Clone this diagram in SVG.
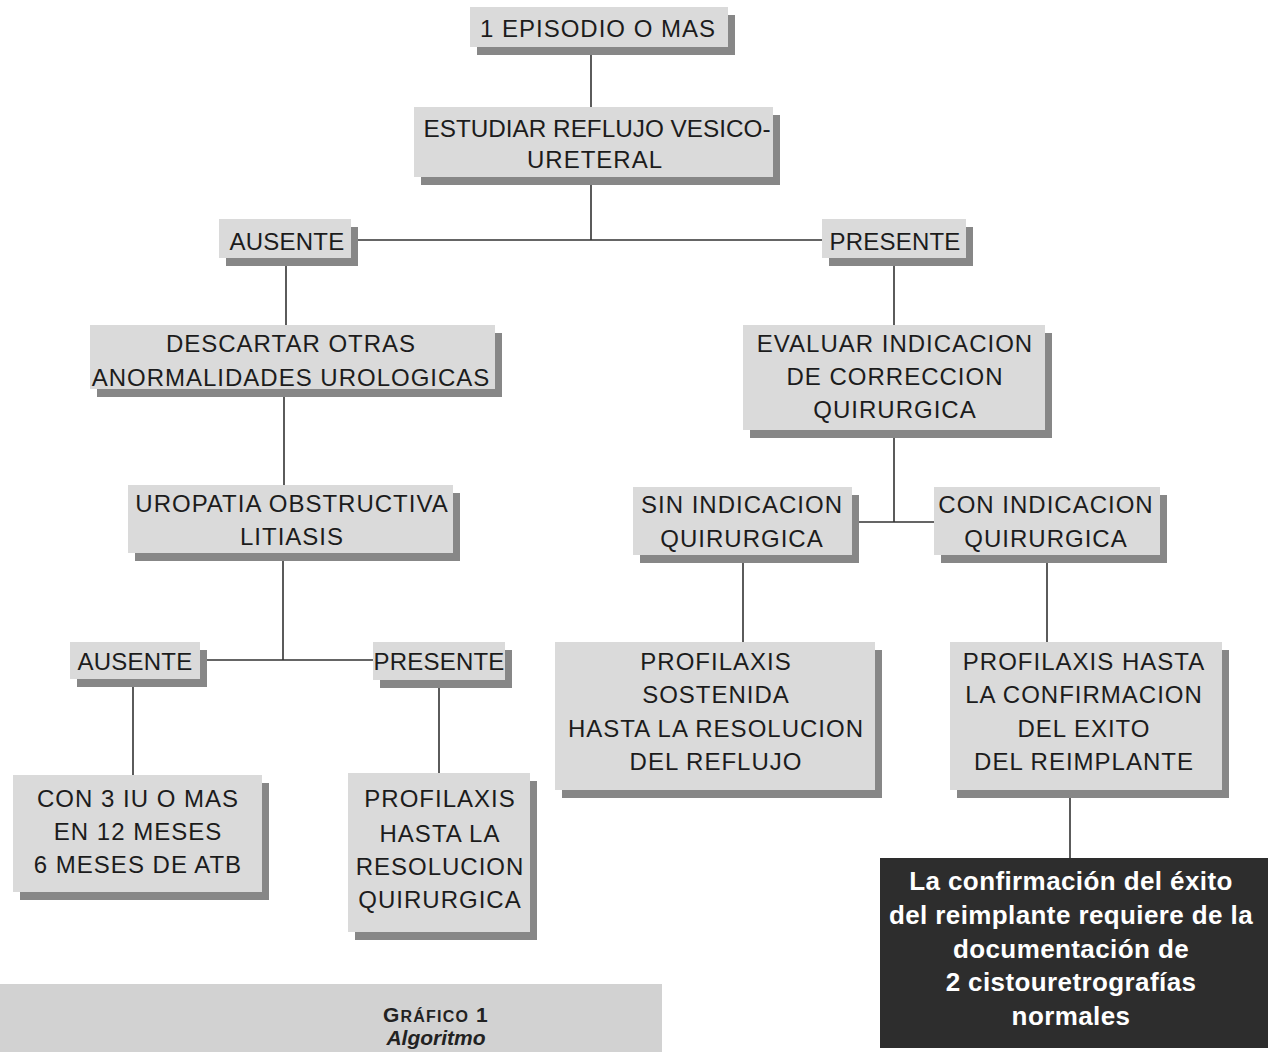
<svg xmlns="http://www.w3.org/2000/svg" width="1268" height="1052" viewBox="0 0 1268 1052">
<style>
.bg{fill:#ffffff}
.sh{fill:#878787}
.bx{fill:#dadada}
.t{font-family:"Liberation Sans",Arial,sans-serif;font-size:24px;letter-spacing:1px;fill:#1c1c1c;text-anchor:middle}
.tn{letter-spacing:0.2px}
.w{font-family:"Liberation Sans",Arial,sans-serif;font-size:26px;font-weight:bold;letter-spacing:0.4px;fill:#ffffff;text-anchor:middle}
.ln{stroke:#333333;stroke-width:1.6;fill:none}
.cap{font-family:"Liberation Sans",Arial,sans-serif;font-weight:bold;fill:#222222;text-anchor:middle}
</style>
<rect class="bg" x="0" y="0" width="1268" height="1052"/>
<rect x="0" y="984" width="662" height="68" fill="#d2d2d2"/>

<g id="connectors">
<path class="ln" d="M591 47V107"/>
<path class="ln" d="M591 185V240M358 240H822"/>
<path class="ln" d="M286 266V325"/>
<path class="ln" d="M894 266V325"/>
<path class="ln" d="M284 397V485"/>
<path class="ln" d="M894 438V522M859 522H934"/>
<path class="ln" d="M283 561V660M207 660H373"/>
<path class="ln" d="M133 687V775"/>
<path class="ln" d="M439 688V773"/>
<path class="ln" d="M743 563V642"/>
<path class="ln" d="M1047 563V642"/>
<path class="ln" d="M1070 798V858"/>
</g>

<g id="n-episodio">
<rect class="sh" x="477" y="15" width="258" height="40"/>
<rect class="bx" x="470" y="7" width="258" height="40"/>
<text class="t" x="598" y="37">1 EPISODIO O MAS</text>
</g>

<g id="n-estudiar">
<rect class="sh" x="421" y="115" width="359" height="70"/>
<rect class="bx" x="414" y="107" width="359" height="70"/>
<text class="t" x="597" y="137" style="letter-spacing:0;font-size:24.3px">ESTUDIAR REFLUJO VESICO-</text>
<text class="t" x="595" y="168">URETERAL</text>
</g>

<g id="n-ausente1">
<rect class="sh" x="226" y="227" width="132" height="39"/>
<rect class="bx" x="219" y="219" width="132" height="39"/>
<text class="t tn" x="287" y="250">AUSENTE</text>
</g>

<g id="n-presente1">
<rect class="sh" x="829" y="227" width="144" height="39"/>
<rect class="bx" x="822" y="219" width="144" height="39"/>
<text class="t tn" x="895" y="250">PRESENTE</text>
</g>

<g id="n-descartar">
<rect class="sh" x="97" y="333" width="405" height="64"/>
<rect class="bx" x="90" y="325" width="405" height="64"/>
<text class="t" x="291" y="352">DESCARTAR OTRAS</text>
<text class="t" x="291" y="386">ANORMALIDADES UROLOGICAS</text>
</g>

<g id="n-evaluar">
<rect class="sh" x="750" y="333" width="302" height="105"/>
<rect class="bx" x="743" y="325" width="302" height="105"/>
<text class="t" x="895" y="352">EVALUAR INDICACION</text>
<text class="t" x="895" y="385">DE CORRECCION</text>
<text class="t" x="895" y="418">QUIRURGICA</text>
</g>

<g id="n-uropatia">
<rect class="sh" x="135" y="493" width="325" height="68"/>
<rect class="bx" x="128" y="485" width="325" height="68"/>
<text class="t" x="292" y="512">UROPATIA OBSTRUCTIVA</text>
<text class="t" x="292" y="545">LITIASIS</text>
</g>

<g id="n-sin">
<rect class="sh" x="640" y="495" width="219" height="68"/>
<rect class="bx" x="633" y="487" width="219" height="68"/>
<text class="t" x="742" y="513">SIN INDICACION</text>
<text class="t" x="742" y="547">QUIRURGICA</text>
</g>

<g id="n-con">
<rect class="sh" x="941" y="495" width="226" height="68"/>
<rect class="bx" x="934" y="487" width="226" height="68"/>
<text class="t" x="1046" y="513">CON INDICACION</text>
<text class="t" x="1046" y="547">QUIRURGICA</text>
</g>

<g id="n-ausente2">
<rect class="sh" x="77" y="650" width="130" height="37"/>
<rect class="bx" x="70" y="642" width="130" height="37"/>
<text class="t tn" x="135" y="670">AUSENTE</text>
</g>

<g id="n-presente2">
<rect class="sh" x="380" y="650" width="132" height="38"/>
<rect class="bx" x="373" y="642" width="132" height="38"/>
<text class="t tn" x="439" y="670">PRESENTE</text>
</g>

<g id="n-prof-sostenida">
<rect class="sh" x="562" y="650" width="320" height="148"/>
<rect class="bx" x="555" y="642" width="320" height="148"/>
<text class="t" x="716" y="670">PROFILAXIS</text>
<text class="t" x="716" y="703">SOSTENIDA</text>
<text class="t" x="716" y="737">HASTA LA RESOLUCION</text>
<text class="t" x="716" y="770">DEL REFLUJO</text>
</g>

<g id="n-prof-confirmacion">
<rect class="sh" x="957" y="650" width="272" height="148"/>
<rect class="bx" x="950" y="642" width="272" height="148"/>
<text class="t" x="1084" y="670">PROFILAXIS HASTA</text>
<text class="t" x="1084" y="703">LA CONFIRMACION</text>
<text class="t" x="1084" y="737">DEL EXITO</text>
<text class="t" x="1084" y="770">DEL REIMPLANTE</text>
</g>

<g id="n-con3iu">
<rect class="sh" x="20" y="783" width="249" height="117"/>
<rect class="bx" x="13" y="775" width="249" height="117"/>
<text class="t" x="138" y="807">CON 3 IU O MAS</text>
<text class="t" x="138" y="840">EN 12 MESES</text>
<text class="t" x="138" y="873">6 MESES DE ATB</text>
</g>

<g id="n-prof-quirurgica">
<rect class="sh" x="355" y="781" width="182" height="159"/>
<rect class="bx" x="348" y="773" width="182" height="159"/>
<text class="t" x="440" y="807">PROFILAXIS</text>
<text class="t" x="440" y="842">HASTA LA</text>
<text class="t" x="440" y="875">RESOLUCION</text>
<text class="t" x="440" y="908">QUIRURGICA</text>
</g>

<g id="n-nota">
<rect x="880" y="858" width="388" height="190" fill="#2d2d2d"/>
<text class="w" x="1071" y="890">La confirmación del éxito</text>
<text class="w" x="1071" y="924">del reimplante requiere de la</text>
<text class="w" x="1071" y="958">documentación de</text>
<text class="w" x="1071" y="991">2 cistouretrografías</text>
<text class="w" x="1071" y="1025">normales</text>
</g>

<g id="caption">
<text class="cap" x="436" y="1022" letter-spacing="1.2"><tspan font-size="21">G</tspan><tspan font-size="16">RÁFICO</tspan><tspan font-size="21"> 1</tspan></text>
<text class="cap" x="436" y="1045" font-size="21" font-style="italic">Algoritmo</text>
</g>
</svg>
